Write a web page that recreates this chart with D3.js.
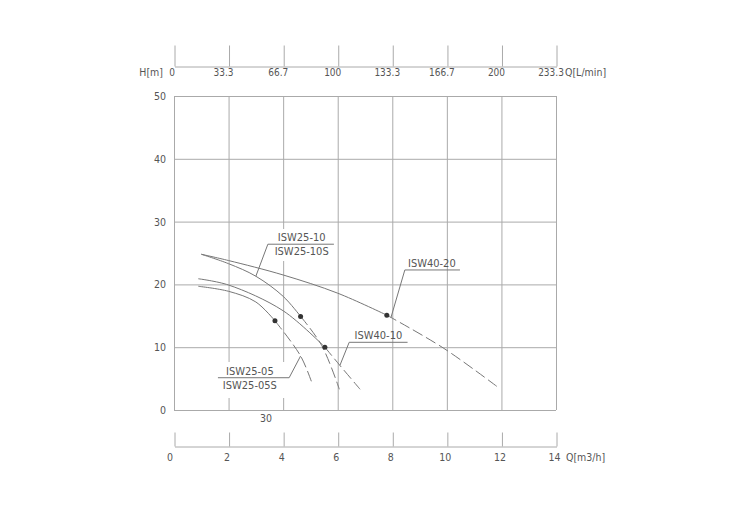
<!DOCTYPE html>
<html>
<head>
<meta charset="utf-8">
<script src="https://cdn.jsdelivr.net/npm/d3@7"></script>
<style>
  html, body { margin: 0; padding: 0; background: #fff; }
  text { font-family: "DejaVu Sans Condensed", "Liberation Sans Narrow", "Noto Sans", sans-serif; font-stretch: condensed; fill: #555; }
</style>
</head>
<body>
<svg id="chart" width="750" height="529"></svg>
<script>
// ejes
const qTicks = [0, 2, 4, 6, 8, 10, 12, 14];
const lTicks = ["0", "33.3", "66.7", "100", "133.3", "166.7", "200", "233.3"];
const hTicks = [0, 10, 20, 30, 40, 50];

// curvas: tramo continuo hasta el punto, luego discontinuo
const curvas = [
  { nombre: "ISW40-20",
    solidoQ: [1, 2, 4, 6, 7.8], solidoH: [24.8, 23.8, 21.5, 18.6, 15.1],
    trazoQ: [7.8, 9.86, 11.85], trazoH: [15.1, 9.9, 3.7] },
  { nombre: "ISW25-10",
    solidoQ: [1, 2, 3, 4, 4.64], solidoH: [24.8, 23.3, 21.3, 18.1, 14.9],
    trazoQ: [4.64, 5.41, 6.06], trazoH: [14.9, 10.3, 3.3] },
  { nombre: "ISW40-10",
    solidoQ: [0.89, 2, 4, 5.53], solidoH: [20.9, 19.9, 15.8, 10.0],
    trazoQ: [5.53, 6.08, 6.82], trazoH: [10.0, 7.1, 3.3] },
  { nombre: "ISW25-05",
    solidoQ: [0.89, 2, 3, 3.7], solidoH: [19.7, 18.9, 17.2, 14.2],
    trazoQ: [3.7, 4.64, 5.08], trazoH: [14.2, 8.6, 4.0] }
];

// etiquetas con línea guía (unidades de datos); qa = extremo de donde sale la guía
const etiquetas = [
  { lineas: ["ISW25-10", "ISW25-10S"], q: 4.68, h: 26.4, q0: 3.44, q1: 5.86, qa: 3.44, qp: 3.0, hp: 21.3 },
  { lineas: ["ISW25-05", "ISW25-05S"], q: 2.78, h: 5.14, q0: 1.61, q1: 4.22, qa: 4.22, qp: 4.64, hp: 8.6 },
  { lineas: ["ISW40-10"], q: 7.49, h: 10.78, q0: 6.42, q1: 8.56, qa: 6.42, qp: 6.08, hp: 7.1 },
  { lineas: ["ISW40-20"], q: 9.45, h: 22.3, q0: 8.46, q1: 10.48, qa: 8.46, qp: 7.95, hp: 14.7 }
];

const svg = d3.select("#chart");
const x = d3.scaleLinear().domain([0, 14]).range([174, 556]);
const xL = d3.scaleLinear().domain([0, 233.3]).range([174, 556]);
const y = d3.scaleLinear().domain([0, 50]).range([410, 96]);
const gris = "#aaa";

// rejilla
const rejilla = svg.append("g").attr("stroke", gris).attr("stroke-width", 1);
rejilla.selectAll("line.v").data(qTicks).join("line")
  .attr("x1", d => x(d) + 0.5).attr("x2", d => x(d) + 0.5)
  .attr("y1", y(50)).attr("y2", y(0));
rejilla.selectAll("line.h").data(hTicks).join("line")
  .attr("x1", x(0)).attr("x2", x(14))
  .attr("y1", d => y(d) + 0.5).attr("y2", d => y(d) + 0.5);

// fondos blancos tras las etiquetas de dos líneas
svg.append("rect").attr("x", 270).attr("y", 229).attr("width", 63).attr("height", 32).attr("fill", "#fff");
svg.append("rect").attr("x", 216).attr("y", 362).attr("width", 74).attr("height", 36).attr("fill", "#fff");

// eje Y
svg.append("g").selectAll("text").data(hTicks).join("text")
  .attr("x", 166).attr("y", d => y(d) + 4)
  .attr("text-anchor", "end").attr("font-size", 10.5)
  .text(d => d);

// eje superior L/min
const ejeSup = svg.append("g").attr("transform", "translate(0.5,66.5)")
  .call(d3.axisTop(xL).tickValues(lTicks.map(Number)).tickSize(21).tickSizeOuter(0).tickFormat(""));
ejeSup.selectAll("path,line").attr("stroke", gris);
svg.append("g").selectAll("text").data(lTicks).join("text")
  .attr("x", d => xL(+d) - (+d === 0 ? 2 : 5)).attr("y", 76)
  .attr("text-anchor", "middle").attr("font-size", 10)
  .text(d => d);
svg.append("text").attr("x", 163).attr("y", 76).attr("text-anchor", "end").attr("font-size", 10.5).text("H[m]");
svg.append("text").attr("x", 565).attr("y", 76).attr("font-size", 10.5).text("Q[L/min]");

// eje inferior m3/h
const ejeInf = svg.append("g").attr("transform", "translate(0.5,446.5)")
  .call(d3.axisTop(x).tickValues(qTicks).tickSize(14).tickSizeOuter(0).tickFormat(""));
ejeInf.selectAll("path,line").attr("stroke", gris);
svg.append("g").selectAll("text").data(qTicks).join("text")
  .attr("x", d => x(d) - (d === 0 ? 4 : 1.5)).attr("y", 461)
  .attr("text-anchor", "middle").attr("font-size", 10.5)
  .text(d => d);
svg.append("text").attr("x", 566).attr("y", 461).attr("font-size", 10.5).text("Q[m3/h]");
svg.append("text").attr("x", 266).attr("y", 422).attr("text-anchor", "middle").attr("font-size", 10.5).text("30");

// curvas
const linea = d3.line().x(d => x(d[0])).y(d => y(d[1])).curve(d3.curveCatmullRom.alpha(0.5));
const gc = svg.append("g").attr("fill", "none").attr("stroke", "#777").attr("stroke-width", 1);
curvas.forEach(c => {
  gc.append("path").attr("d", linea(c.solidoQ.map((q, i) => [q, c.solidoH[i]])));
  gc.append("path").attr("stroke-dasharray", "11,4")
    .attr("d", linea(c.trazoQ.map((q, i) => [q, c.trazoH[i]])));
});
svg.append("g").selectAll("circle").data(curvas).join("circle")
  .attr("cx", d => x(d.trazoQ[0])).attr("cy", d => y(d.trazoH[0]))
  .attr("r", 2.5).attr("fill", "#333");

// etiquetas
const ge = svg.append("g");
etiquetas.forEach(e => {
  ge.append("path").attr("fill", "none").attr("stroke", "#777")
    .attr("d", `M${x(e.q0)},${y(e.h)}H${x(e.q1)}M${x(e.qa)},${y(e.h)}L${x(e.qp)},${y(e.hp)}`);
  e.lineas.forEach((t, i) => {
    ge.append("text").attr("x", x(e.q)).attr("y", y(e.h) - 3 + i * 14)
      .attr("text-anchor", "middle").attr("font-size", 11).text(t);
  });
});
</script>
</body>
</html>
